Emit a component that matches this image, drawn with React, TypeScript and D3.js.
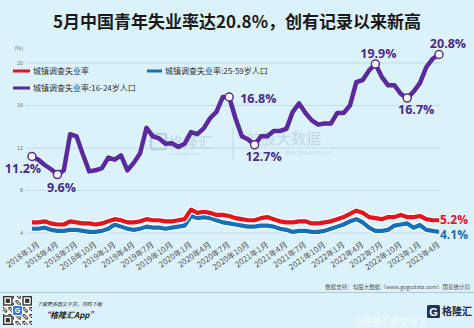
import React from 'react';
import * as d3 from 'd3';

const W = 474;
const H = 328;

// months Jan 2018 .. May 2023
const months: string[] = [];
for (let i = 0; i < 65; i++) {
  months.push(`${2018 + Math.floor(i / 12)}年${(i % 12) + 1}月`);
}
const tickMonths: string[] = [
  '2018年1月','2018年4月','2018年7月','2018年10月',
  '2019年1月','2019年4月','2019年7月','2019年10月',
  '2020年1月','2020年4月','2020年7月','2020年10月',
  '2021年1月','2021年4月','2021年7月','2021年10月',
  '2022年1月','2022年4月','2022年7月','2022年10月',
  '2023年1月','2023年4月',
];
const yTicks = [4, 8, 12, 16, 20];

const youth: number[] = [
  11.2, 10.9, 10.4, 10.0, 9.5, 9.9, 13.3, 13.1, 11.4, 9.8, 9.9, 10.1,
  11.1, 10.9, 11.3, 9.9, 10.6, 11.5, 13.9, 13.1, 12.9, 12.4, 12.45, 12.1,
  12.4, 13.5, 13.3, 13.85, 14.8, 15.4, 16.8, 16.8, 14.8, 13.1, 12.8, 12.3,
  13.1, 13.1, 13.6, 13.6, 13.8, 15.4, 16.2, 15.3, 14.6, 14.2, 14.3, 14.3,
  15.3, 15.3, 16.0, 18.2, 18.4, 19.3, 19.9, 18.7, 17.9, 17.9, 17.1, 16.7,
  17.3, 18.1, 19.6, 20.4, 20.8,
];
const overall: number[] = [
  5.0, 5.0, 5.1, 4.9, 4.8, 4.8, 5.1, 5.0, 4.9, 4.9, 4.8, 4.9,
  5.1, 5.3, 5.2, 5.0, 5.0, 5.1, 5.3, 5.2, 5.2, 5.1, 5.1, 5.2,
  5.3, 6.2, 5.9, 6.0, 5.9, 5.7, 5.7, 5.6, 5.4, 5.3, 5.2, 5.2,
  5.4, 5.5, 5.3, 5.1, 5.0, 5.0, 5.1, 5.1, 4.9, 4.9, 5.0, 5.1,
  5.3, 5.5, 5.8, 6.1, 5.9, 5.5, 5.4, 5.3, 5.5, 5.5, 5.7, 5.5,
  5.5, 5.6, 5.3, 5.2, 5.2,
];
const prime: number[] = [
  4.4, 4.4, 4.5, 4.3, 4.2, 4.2, 4.3, 4.3, 4.2, 4.1, 4.1, 4.2,
  4.4, 4.8, 4.6, 4.4, 4.3, 4.4, 4.6, 4.5, 4.5, 4.4, 4.5, 4.6,
  4.7, 5.6, 5.4, 5.5, 5.4, 5.2, 5.0, 4.9, 4.8, 4.7, 4.6, 4.6,
  4.7, 4.7, 4.6, 4.4, 4.3, 4.1, 4.2, 4.2, 4.1, 4.1, 4.2, 4.4,
  4.6, 4.8, 5.1, 5.3, 5.0, 4.5, 4.2, 4.2, 4.3, 4.7, 4.8, 4.9,
  4.5, 4.75, 4.3, 4.2, 4.1,
];

const legendNames = ['城镇调查失业率', '城镇调查失业率:25-59岁人口', '城镇调查失业率:16-24岁人口'];
const youthMarks = [0, 4, 31, 35, 54, 59, 64];
const youthLabels = ['11.2%', '9.6%', '16.8%', '12.7%', '19.9%', '16.7%', '20.8%'];
const endLabels = ['5.2%', '4.1%'];

const labelOffsets: [number, number, string][] = [
  [-9, 16, 'middle'],
  [4, 17, 'middle'],
  [11, 6, 'start'],
  [9, 16, 'middle'],
  [3, -6, 'middle'],
  [9, 16, 'middle'],
  [9, -7, 'middle'],
];

const PURPLE = '#5a2a9c';
const PURPLE_TEXT = '#4a2a86';
const RED = '#e3151c';
const BLUE = '#1570b8';
const BG = '#dcf2fa';
const CJK = '"Noto Sans CJK SC", "Noto Sans", sans-serif';

function QR() {
  const cells: JSX.Element[] = [];
  const n = 21;
  const s = 29 / n;
  for (let r = 0; r < n; r++) {
    for (let c = 0; c < n; c++) {
      const inFinder = (r < 7 && c < 7) || (r < 7 && c >= n - 7) || (r >= n - 7 && c < 7);
      if (inFinder) continue;
      if (((r * 7 + c * 13 + r * c) % 5) < 2) {
        cells.push(<rect key={`${r}-${c}`} x={3 + c * s} y={296 + r * s} width={s} height={s} fill="#333" />);
      }
    }
  }
  const finder = (fx: number, fy: number, k: string) => (
    <g key={k}>
      <rect x={fx} y={fy} width={7 * s} height={7 * s} fill="#333" />
      <rect x={fx + s} y={fy + s} width={5 * s} height={5 * s} fill="#fff" />
      <rect x={fx + 2 * s} y={fy + 2 * s} width={3 * s} height={3 * s} fill="#333" />
    </g>
  );
  return (
    <g>
      <rect x={3} y={296} width={29} height={29} fill="#fff" />
      {cells}
      {finder(3, 296, 'a')}
      {finder(3 + (n - 7) * s, 296, 'b')}
      {finder(3, 296 + (n - 7) * s, 'c')}
      <rect x={12.5} y={305.5} width={10} height={10} rx={2} fill="#2f7fd8" stroke="#fff" strokeWidth={1} />
      <text x={17.5} y={313} textAnchor="middle" fontSize={7} fontWeight="bold" fill="#fff" fontFamily="Arial">G</text>
    </g>
  );
}

export default function App() {
  const x = d3.scaleLinear().domain([0, months.length - 1]).range([32, 439]);
  const y = d3.scaleLinear().domain([4, 20]).range([233, 63]);
  const line = d3.line<number>().x((_, i) => x(i)).y((d) => y(d)).curve(d3.curveLinear);

  return (
    <div style={{ position: 'fixed', left: 0, top: 0 }}>
      <svg width={W} height={H} style={{ display: 'block', background: BG }}>
        <rect width={W} height={H} fill={BG} />
        {/* title */}
        <text x={237} y={28} textAnchor="middle" fontSize={17} fontWeight="bold" fill="#1a1a1a" fontFamily={CJK}>
          5月中国青年失业率达20.8%，创有记录以来新高
        </text>

        {/* watermarks */}
        <g opacity={0.7}>
          <rect x={151} y={134} width={15} height={15} rx={2} fill="none" stroke="#a9c6d6" strokeWidth={2.5} />
          <text x={168} y={148} fontSize={15} fill="#b5cfdd" fontFamily={CJK}>格隆汇</text>
          <text x={168} y={155} fontSize={3.5} fill="#b5cfdd" fontFamily="Arial">www.gelonghui.com</text>
          <line x1={233} x2={233} y1={128} y2={160} stroke="#b5cfdd" strokeWidth={1} />
          <text x={246} y={144} fontSize={15} fill="#b5cfdd" fontFamily={CJK}>勾股大数据</text>
          <text x={285} y={154} fontSize={4.5} fill="#b5cfdd" fontFamily="Arial" letterSpacing={0.6}>www.gogudata.com</text>
        </g>

        {/* grid */}
        {yTicks.map((t) => (
          <g key={t}>
            <line x1={26} x2={440} y1={y(t)} y2={y(t)} stroke="#bcd5e2" strokeWidth={0.8} />
            <text x={23} y={y(t)} dy="0.35em" textAnchor="end" fontSize={5.5} fill="#777" fontFamily="Arial">{t}</text>
          </g>
        ))}
        <text x={23} y={50} textAnchor="end" fontSize={5.5} fill="#777" fontFamily="Arial">(%)</text>

        {/* x labels */}
        {tickMonths.map((m) => {
          const i = months.indexOf(m);
          const ax = x(i) + 8;
          const ay = 246;
          return (
            <text key={m} x={ax} y={ay} textAnchor="end" fontSize={8} fill="#555" fontFamily={CJK}
              transform={`rotate(-35 ${ax} ${ay})`}>{m}</text>
          );
        })}

        {/* legend */}
        <line x1={13} x2={30} y1={71} y2={71} stroke={RED} strokeWidth={3} />
        <text x={33} y={71} dy="0.35em" fontSize={8} fill="#333" fontFamily={CJK}>{legendNames[0]}</text>
        <line x1={147} x2={162} y1={71} y2={71} stroke={BLUE} strokeWidth={3} />
        <text x={165} y={71} dy="0.35em" fontSize={8} fill="#333" fontFamily={CJK}>{legendNames[1]}</text>
        <line x1={13} x2={30} y1={88} y2={88} stroke={PURPLE} strokeWidth={3} />
        <text x={33} y={88} dy="0.35em" fontSize={8} fill="#333" fontFamily={CJK}>{legendNames[2]}</text>

        {/* lines */}
        <path d={line(prime) || ''} fill="none" stroke="#fff" strokeWidth={6.5} strokeLinejoin="round" />
        <path d={line(prime) || ''} fill="none" stroke={BLUE} strokeWidth={4.2} strokeLinejoin="round" />
        <path d={line(overall) || ''} fill="none" stroke="#fff" strokeWidth={6.5} strokeLinejoin="round" />
        <path d={line(overall) || ''} fill="none" stroke={RED} strokeWidth={4.2} strokeLinejoin="round" />
        <path d={line(youth) || ''} fill="none" stroke={PURPLE} strokeWidth={4.5} strokeLinejoin="round" />

        {youthMarks.map((i, k) => {
          const [dx, dy, anchor] = labelOffsets[k];
          return (
            <g key={i}>
              <circle cx={x(i)} cy={y(youth[i])} r={4} fill="#fff" stroke={PURPLE} strokeWidth={1.5} />
              <text x={x(i) + dx} y={y(youth[i]) + dy} textAnchor={anchor as any} fontSize={12.5} fontWeight="bold"
                fill={PURPLE_TEXT} fontFamily="'Open Sans', Arial, sans-serif">{youthLabels[k]}</text>
            </g>
          );
        })}

        <text x={440} y={y(overall[64]) + 4} fontSize={12} fontWeight="bold" fill={RED}
          fontFamily="'Open Sans', Arial, sans-serif">{endLabels[0]}</text>
        <text x={440} y={y(prime[64]) + 7.5} fontSize={12} fontWeight="bold" fill={BLUE}
          fontFamily="'Open Sans', Arial, sans-serif">{endLabels[1]}</text>

        {/* footer */}
        <text x={470} y={289} textAnchor="end" fontSize={5.5} fill="#555" fontFamily={CJK}>
          数据支持：勾股大数据（www.gogudata.com）国家统计局
        </text>
        <line x1={0} x2={W} y1={292.5} y2={292.5} stroke="#9fbfcf" strokeWidth={0.8} />
        <QR />
        <text x={37} y={306} fontSize={5} fill="#333" fontStyle="italic" fontFamily={CJK}>了解更多图文干货，扫码下载</text>
        <text x={42} y={318} fontSize={8} fill="#222" fontWeight="bold" fontStyle="italic" fontFamily={CJK}>“格隆汇App”</text>

        <rect x={427} y={305} width={13} height={13} rx={1.5} fill="#1d3557" />
        <text x={433.5} y={315.5} textAnchor="middle" fontSize={11} fontWeight="bold" fill="#fff" fontFamily="Arial">G</text>
        <text x={442} y={315} fontSize={10} fontWeight="bold" fill="#1d2b4a" fontFamily={CJK}>格隆汇</text>
        <text x={355} y={325} fontSize={9} fill="#fff" opacity={0.75} fontFamily={CJK}>@格隆汇图文天下</text>
      </svg>
    </div>
  );
}
